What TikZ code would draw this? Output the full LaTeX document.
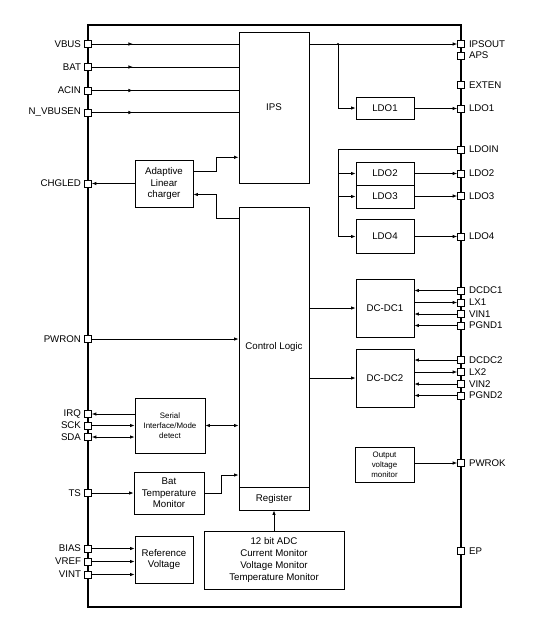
\documentclass[tikz,border=0pt]{standalone}
\usepackage{fontspec}
\setmainfont{Liberation Sans}
\usetikzlibrary{arrows.meta,decorations.markings}
\begin{document}
\begin{tikzpicture}[x=1pt,y=-1pt,
  every node/.style={font=\fontsize{9.7}{11.7}\selectfont},
  blk/.style={draw, line width=0.8pt, inner sep=1pt, align=center},
  small/.style={font=\fontsize{7.9}{10}\selectfont},
  pinbox/.style={draw, fill=white, line width=0.7pt, minimum size=7pt, inner sep=0pt},
  pl/.style={pinbox, label={[inner sep=0pt, label distance=3pt]left:#1}},
  pr/.style={pinbox, label={[inner sep=0pt, label distance=4pt]right:#1}},
  conn/.style={line width=0.8pt},
  arr/.style={-{Latex[length=4.5pt,width=3.5pt]}},
  darr/.style={{Latex[length=4.5pt,width=3.5pt]}-{Latex[length=4.5pt,width=3.5pt]}},
  midarr/.style={postaction={decorate}, decoration={markings, mark=at position #1 with {\arrow{Latex[length=4.5pt,width=3.5pt]}}}}
]
\useasboundingbox (0,0) rectangle (539,633);
% outer frame
\draw[line width=1.4pt] (88,25) rectangle (461,607);

% blocks
\node[blk, minimum width=70pt, minimum height=151pt] (ips) at (274,107.5) {IPS};
\node[blk, minimum width=70pt, minimum height=280pt] (cl) at (274,347) {Control Logic};
\node[blk, minimum width=70pt, minimum height=23pt] (reg) at (274,498.5) {Register};
\node[blk, minimum width=58pt, minimum height=47pt] (chg) at (164,183.5) {Adaptive\\Linear\\charger};
\node[blk, small, minimum width=70pt, minimum height=55pt] (ser) at (170,425.5) {Serial\\Interface/Mode\\detect};
\node[blk, minimum width=70pt, minimum height=42pt] (bt) at (169,493) {Bat\\Temperature\\Monitor};
\node[blk, minimum width=58pt, minimum height=47pt] (ref) at (164,559.5) {Reference\\Voltage};
\node[blk, minimum width=140pt, minimum height=58pt, font=\fontsize{9.7}{12}\selectfont] (adc) at (274,560) {12 bit ADC\\Current Monitor\\Voltage Monitor\\Temperature Monitor};
\node[blk, minimum width=58pt, minimum height=22pt] (ldo1) at (385,108) {LDO1};
\node[blk, minimum width=58pt, minimum height=23pt] (ldo2) at (385,173.5) {LDO2};
\node[blk, minimum width=58pt, minimum height=23pt] (ldo3) at (385,196.5) {LDO3};
\node[blk, minimum width=58pt, minimum height=34pt] (ldo4) at (385,236) {LDO4};
\node[blk, minimum width=58pt, minimum height=58pt] (dc1) at (385,308) {DC-DC1};
\node[blk, minimum width=58pt, minimum height=58pt] (dc2) at (385,378) {DC-DC2};
\node[blk, small, minimum width=59pt, minimum height=35pt] (ovm) at (384.5,464.5) {Output\\voltage\\monitor};

% left pins
\node[pl=VBUS] (pVBUS) at (88,44) {};
\node[pl=BAT] (pBAT) at (88,67) {};
\node[pl=ACIN] (pACIN) at (88,90.5) {};
\node[pl=N\_VBUSEN] (pNV) at (88,112.5) {};
\node[pl=CHGLED] (pCHGLED) at (88,183.5) {};
\node[pl=PWRON] (pPWRON) at (88,339) {};
\node[pl=IRQ] (pIRQ) at (88,414) {};
\node[pl=SCK] (pSCK) at (88,425.5) {};
\node[pl=SDA] (pSDA) at (88,437) {};
\node[pl=TS] (pTS) at (88,493) {};
\node[pl=BIAS] (pBIAS) at (88,548.5) {};
\node[pl=VREF] (pVREF) at (88,561.5) {};
\node[pl=VINT] (pVINT) at (88,574.5) {};

% right pins
\node[pr=IPSOUT] (pIPSOUT) at (461,44) {};
\node[pr=APS] (pAPS) at (461,55.5) {};
\node[pr=EXTEN] (pEXTEN) at (461,85) {};
\node[pr=LDO1] (pLDO1) at (461,108.5) {};
\node[pr=LDOIN] (pLDOIN) at (461,149.5) {};
\node[pr=LDO2] (pLDO2) at (461,173.5) {};
\node[pr=LDO3] (pLDO3) at (461,196) {};
\node[pr=LDO4] (pLDO4) at (461,236.5) {};
\node[pr=DCDC1] (pDCDC1) at (461,290.5) {};
\node[pr=LX1] (pLX1) at (461,302.5) {};
\node[pr=VIN1] (pVIN1) at (461,314) {};
\node[pr=PGND1] (pPGND1) at (461,325.5) {};
\node[pr=DCDC2] (pDCDC2) at (461,360) {};
\node[pr=LX2] (pLX2) at (461,372) {};
\node[pr=VIN2] (pVIN2) at (461,384) {};
\node[pr=PGND2] (pPGND2) at (461,395.5) {};
\node[pr=PWROK] (pPWROK) at (461,463) {};
\node[pr=EP] (pEP) at (461,551) {};

% bend points
\coordinate (b1) at (216,157.3);
\coordinate (b2) at (216,194.5);
\coordinate (b3) at (221.7,475);
\coordinate (j1) at (338,44);
\coordinate (j2) at (338,236.5);

% inputs to IPS
\draw[conn, midarr=0.28] (pVBUS.east) -- (ips.west |- pVBUS);
\draw[conn, midarr=0.28] (pBAT.east) -- (ips.west |- pBAT);
\draw[conn, midarr=0.28] (pACIN.east) -- (ips.west |- pACIN);
\draw[conn, midarr=0.28] (pNV.east) -- (ips.west |- pNV);

% charger
\draw[conn, arr] (chg.west |- pCHGLED) -- (pCHGLED.east);
\draw[conn, arr] ([yshift=11.8pt]chg.east) -| (b1) -- (ips.west |- b1);
\draw[conn, arr] ([yshift=-11.3pt]cl.north west) -| (b2) -- (chg.east |- b2);

% IPSOUT and LDO1
\draw[conn, arr] (ips.east |- pIPSOUT) -- (pIPSOUT.west);
\fill (j1) circle (1.2pt);
\draw[conn, arr] (j1) |- (ldo1.west);
\draw[conn, arr] (ldo1.east |- pLDO1) -- (pLDO1.west);

% LDOIN
\draw[conn, arr] (pLDOIN.west) -| (j2) -- (ldo4.west |- j2);
\draw[conn, arr] (j2 |- ldo2) -- (ldo2.west);
\draw[conn, arr] (j2 |- ldo3) -- (ldo3.west);
\draw[conn, arr] (ldo2.east |- pLDO2) -- (pLDO2.west);
\draw[conn, arr] (ldo3.east |- pLDO3) -- (pLDO3.west);
\draw[conn, arr] (ldo4.east |- pLDO4) -- (pLDO4.west);

% PWRON and control
\draw[conn, arr] (pPWRON.east) -- (cl.west |- pPWRON);
\draw[conn, arr] (cl.east |- dc1) -- (dc1.west);
\draw[conn, arr] (cl.east |- dc2) -- (dc2.west);

% DC-DC pins
\draw[conn, arr] (pDCDC1.west) -- (dc1.east |- pDCDC1);
\draw[conn, arr] (dc1.east |- pLX1) -- (pLX1.west);
\draw[conn, arr] (pVIN1.west) -- (dc1.east |- pVIN1);
\draw[conn, arr] (pPGND1.west) -- (dc1.east |- pPGND1);
\draw[conn, arr] (pDCDC2.west) -- (dc2.east |- pDCDC2);
\draw[conn, arr] (dc2.east |- pLX2) -- (pLX2.west);
\draw[conn, arr] (pVIN2.west) -- (dc2.east |- pVIN2);
\draw[conn, arr] (pPGND2.west) -- (dc2.east |- pPGND2);

% output monitor
\draw[conn, arr] (ovm.east |- pPWROK) -- (pPWROK.west);

% serial
\draw[conn, arr] (ser.west |- pIRQ) -- (pIRQ.east);
\draw[conn, arr] (pSCK.east) -- (ser.west |- pSCK);
\draw[conn, darr] (pSDA.east) -- (ser.west |- pSDA);
\draw[conn, darr] (ser.east |- pSCK) -- (cl.west |- pSCK);

% bat temp
\draw[conn, arr] (pTS.east) -- (bt.west |- pTS);
\draw[conn, arr] (bt.east) -| (b3) -- (cl.west |- b3);

% reference
\draw[conn, arr] (pBIAS.east) -- (ref.west |- pBIAS);
\draw[conn, arr] (pVREF.east) -- (ref.west |- pVREF);
\draw[conn, arr] (pVINT.east) -- (ref.west |- pVINT);

% ADC
\draw[conn, arr] (adc.north) -- (reg.south);
\end{tikzpicture}
\end{document}
